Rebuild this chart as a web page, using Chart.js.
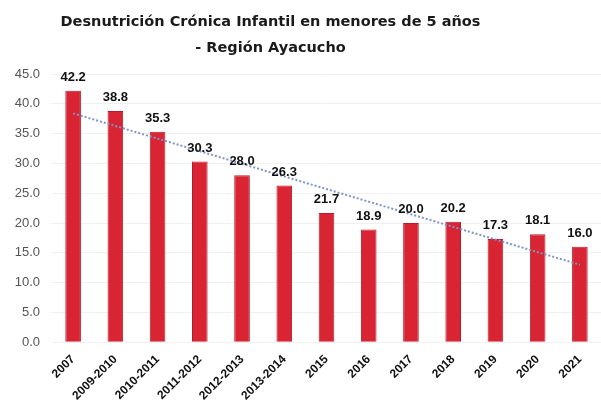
<!DOCTYPE html>
<html lang="es">
  <head>
    <meta charset="UTF-8" />
    <title>Desnutrición Crónica Infantil</title>
    <script src="https://cdn.jsdelivr.net/npm/chart.js@4.4.1/dist/chart.umd.min.js"></script>
    <style>
      body { margin: 0; background: #fff; }
      #wrap { position: relative; width: 601px; height: 408px; }
      #titulo {
        position: absolute; left: 0; top: 8px; width: 541px;
        text-align: center; font-family: "DejaVu Sans", sans-serif;
        font-weight: bold; font-size: 14.5px; line-height: 26px; color: #1a1a1a;
      }
    </style>
  </head>
  <body>
    <div id="wrap">
      <div id="titulo">Desnutrición Crónica Infantil en menores de 5 años<br />- Región Ayacucho</div>
      <canvas id="myChart" width="601" height="408"></canvas>
    </div>
    <script>
      const periodos = ["2007", "2009-2010", "2010-2011", "2011-2012", "2012-2013", "2013-2014",
        "2015", "2016", "2017", "2018", "2019", "2020", "2021"];
      const valores = [42.2, 38.8, 35.3, 30.3, 28.0, 26.3, 21.7, 18.9, 20.0, 20.2, 17.3, 18.1, 16.0];
      // tendencia lineal: solo los extremos
      const tendencia = [38.4, null, null, null, null, null, null, null, null, null, null, null, 13.0];

      const etiquetas = {
        id: "etiquetas",
        afterDatasetsDraw(chart) {
          const ctx = chart.ctx;
          const meta = chart.getDatasetMeta(1);
          ctx.save();
          ctx.font = "bold 13px 'Liberation Sans', Arial, sans-serif";
          ctx.fillStyle = "#111";
          ctx.textAlign = "center";
          ctx.textBaseline = "bottom";
          meta.data.forEach((bar, i) => {
            ctx.fillText(valores[i].toFixed(1), bar.x, bar.y - 7);
          });
          ctx.restore();
        },
      };

      const ctx = document.getElementById("myChart").getContext("2d");
      const myChart = new Chart(ctx, {
        data: {
          labels: periodos,
          datasets: [
            {
              type: "line",
              data: tendencia,
              spanGaps: true,
              borderColor: "#8194c9",
              borderWidth: 2,
              borderDash: [2, 2],
              pointRadius: 0,
              order: 0,
            },
            {
              type: "bar",
              data: valores,
              backgroundColor: "#d92433",
              borderColor: "#b51d2b",
              borderWidth: 1,
              barPercentage: 0.37,
              categoryPercentage: 1,
              order: 1,
            },
          ],
        },
        options: {
          responsive: false,
          animation: false,
          layout: { padding: { top: 74, right: 0, bottom: 3, left: 0 } },
          plugins: { legend: { display: false }, tooltip: { enabled: false } },
          scales: {
            x: {
              grid: { display: false },
              border: { display: false },
              ticks: {
                color: "#111",
                maxRotation: 45,
                minRotation: 45,
                padding: 2,
                font: { family: "'Liberation Sans', Arial, sans-serif", size: 12, weight: "bold" },
              },
            },
            y: {
              min: 0,
              max: 45,
              afterFit(scale) { scale.width = 52; },
              grid: { color: "#f0f0f0", drawTicks: false },
              border: { display: false },
              ticks: {
                stepSize: 5,
                padding: 12,
                color: "#555",
                font: { family: "'Liberation Sans', Arial, sans-serif", size: 13 },
                callback: (v) => v.toFixed(1),
              },
            },
          },
        },
        plugins: [etiquetas],
      });
    </script>
  </body>
</html>
